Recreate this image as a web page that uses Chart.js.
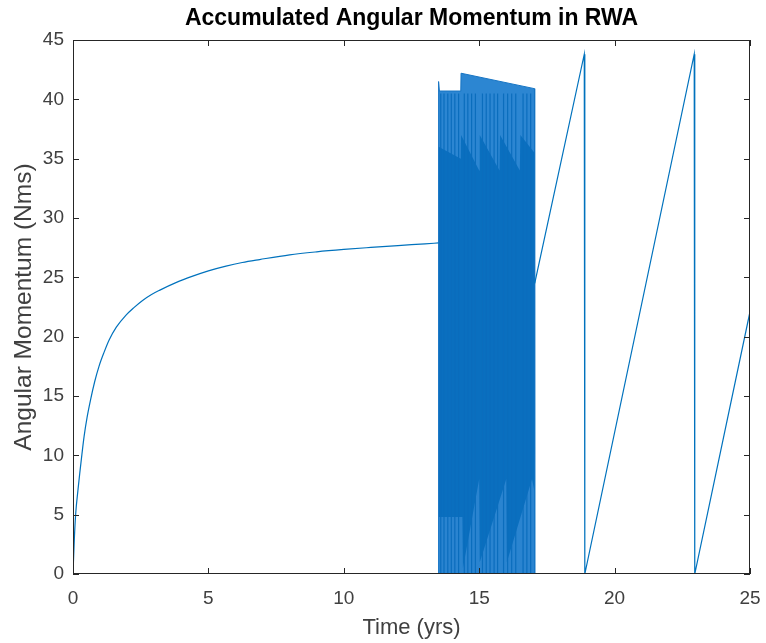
<!DOCTYPE html>
<html>
<head>
<meta charset="utf-8">
<script src="https://cdn.jsdelivr.net/npm/chart.js@4.4.1/dist/chart.umd.min.js"></script>
<style>
  html, body { margin: 0; padding: 0; background: #fff; }
</style>
</head>
<body>
<canvas id="chart" width="766" height="643"></canvas>
<script>
// axis ticks
const xTicks = [0, 5, 10, 15, 20, 25];
const yTicks = [0, 5, 10, 15, 20, 25, 30, 35, 40, 45];

// slow build-up before desaturation starts (yrs, Nms)
const riseT = [0, 0.05, 0.1, 0.18, 0.25, 0.33, 0.41, 0.52, 0.65, 0.8, 0.96, 1.15, 1.33, 1.6, 1.95, 2.25, 2.57, 2.9, 3.19, 3.8, 4.42, 5.0, 5.65, 6.25, 6.89, 8.0, 9.0, 10.0, 11.0, 12.0, 13.0, 13.5];
const riseV = [0, 3.0, 5.1, 7.0, 8.5, 10.1, 11.6, 13.2, 14.7, 16.2, 17.5, 18.7, 19.7, 20.8, 21.8, 22.45, 23.05, 23.55, 23.9, 24.55, 25.1, 25.55, 25.95, 26.25, 26.5, 26.9, 27.15, 27.35, 27.52, 27.68, 27.82, 27.9];

// fast dump cycles: outer envelope of the oscillation
const blockT = [13.50, 13.50, 13.53, 14.32, 14.33, 17.04, 17.05];
const blockV = [0, 41.5, 40.7, 40.7, 42.2, 40.9, 0];

// dense core of the oscillation (where the traces overlap)
const coreT = [13.50, 13.50, 14.32, 14.33, 15.00, 15.02, 15.75, 15.77, 16.50, 16.52, 17.04, 17.04];
const coreV = [0, 36.0, 35.0, 37.0, 34.0, 37.0, 34.0, 37.0, 34.0, 37.0, 35.5, 0];

// lower bound of the fast cycles
const lowT = [13.50, 13.50, 14.38, 14.40, 15.00, 15.02, 16.00, 16.02, 16.95, 17.04, 17.04];
const lowV = [0, 4.8, 4.8, 0.5, 8.0, 1.0, 8.0, 1.0, 8.0, 7.0, 0];

// individual dump traces that stand out inside the block
const streakT = [13.58, 13.70, 13.84, 13.97, 14.10, 14.24, 14.45, 14.58, 14.72, 14.86, 15.12, 15.26, 15.40, 15.55, 15.68, 15.90, 16.05, 16.20, 16.35, 16.62, 16.76, 16.90];
const streakTop = 40.5;

// slow sawtooth after the dense phase
const sawT = [17.05, 18.88, 18.90, 22.94, 22.96, 25];
const sawV = [24.5, 43.8, 0, 43.8, 0, 22.1];

const BLUE = '#0072BD';
const FONT = "'Liberation Sans', Arial, Helvetica, sans-serif";

const pts = (ts, vs) => ts.map((t, i) => ({ x: t, y: vs[i] }));
const streakPts = streakT.flatMap(t => [{ x: t, y: 0 }, { x: t, y: streakTop }, { x: t, y: null }]);

// MATLAB style box with inward ticks on all four sides, title centred over the axes
const axesBox = {
  id: 'axesBox',
  afterDatasetsDraw(chart) {
    const { ctx, chartArea: a, scales: { x, y } } = chart;
    const tl = 6;
    ctx.save();
    ctx.strokeStyle = '#262626';
    ctx.lineWidth = 1;
    ctx.beginPath();
    xTicks.forEach(v => {
      const px = Math.round(x.getPixelForValue(v)) + 0.5;
      ctx.moveTo(px, a.bottom); ctx.lineTo(px, a.bottom - tl);
      ctx.moveTo(px, a.top); ctx.lineTo(px, a.top + tl);
    });
    yTicks.forEach(v => {
      const py = Math.round(y.getPixelForValue(v)) + 0.5;
      ctx.moveTo(a.left, py); ctx.lineTo(a.left + tl, py);
      ctx.moveTo(a.right, py); ctx.lineTo(a.right - tl, py);
    });
    ctx.stroke();
    ctx.strokeRect(a.left + 0.5, a.top + 0.5, a.right - a.left - 1, a.bottom - a.top - 1);

    ctx.fillStyle = '#000';
    ctx.font = 'bold 23px ' + FONT;
    ctx.textAlign = 'center';
    ctx.textBaseline = 'middle';
    ctx.fillText('Accumulated Angular Momentum in RWA', (a.left + a.right) / 2, 19);
    ctx.restore();
  }
};

new Chart(document.getElementById('chart'), {
  type: 'scatter',
  data: {
    datasets: [
      {
        data: pts(riseT, riseV),
        showLine: true, borderColor: BLUE, borderWidth: 1.2, pointRadius: 0, order: 1,
        cubicInterpolationMode: 'monotone'
      },
      {
        data: pts(sawT, sawV),
        showLine: true, borderColor: BLUE, borderWidth: 1.2, pointRadius: 0, order: 1
      },
      {
        data: streakPts,
        showLine: true, spanGaps: false, borderColor: '#0b6dbd', borderWidth: 1.2, pointRadius: 0, order: 2
      },
      {
        data: pts(lowT, lowV),
        showLine: true, borderWidth: 0, pointRadius: 0, fill: 'origin', backgroundColor: '#2a84d0', order: 3
      },
      {
        data: pts(coreT, coreV),
        showLine: true, borderWidth: 0, pointRadius: 0, fill: 'origin', backgroundColor: '#0a6fbf', order: 4
      },
      {
        data: pts(blockT, blockV),
        showLine: true, borderColor: '#1674c3', borderWidth: 1, pointRadius: 0, fill: 'origin', backgroundColor: '#2c86d2', order: 5
      }
    ]
  },
  options: {
    responsive: false,
    animation: false,
    layout: { padding: { top: 40, right: 16, left: 0, bottom: 0 } },
    plugins: { legend: { display: false }, tooltip: { enabled: false } },
    scales: {
      x: {
        type: 'linear', min: 0, max: 25,
        grid: { display: false }, border: { display: false },
        afterBuildTicks: s => { s.ticks = xTicks.map(v => ({ value: v })); },
        afterFit: s => { s.height = 69; s.paddingLeft = 0; s.paddingRight = 0; },
        ticks: { color: '#404040', font: { family: FONT, size: 19 }, padding: 5, maxRotation: 0 },
        title: { display: true, text: 'Time (yrs)', color: '#404040', font: { family: FONT, size: 22 }, padding: { top: 0, bottom: 2 } }
      },
      y: {
        type: 'linear', min: 0, max: 45,
        grid: { display: false }, border: { display: false },
        afterBuildTicks: s => { s.ticks = yTicks.map(v => ({ value: v })); },
        afterFit: s => { s.width = 73; s.paddingTop = 0; s.paddingBottom = 0; },
        ticks: { color: '#404040', font: { family: FONT, size: 19 }, padding: 1 },
        title: { display: true, text: 'Angular Momentum (Nms)', color: '#404040', font: { family: FONT, size: 24.5 }, padding: { top: 10, bottom: 0 } }
      }
    }
  },
  plugins: [axesBox]
});
</script>
</body>
</html>
